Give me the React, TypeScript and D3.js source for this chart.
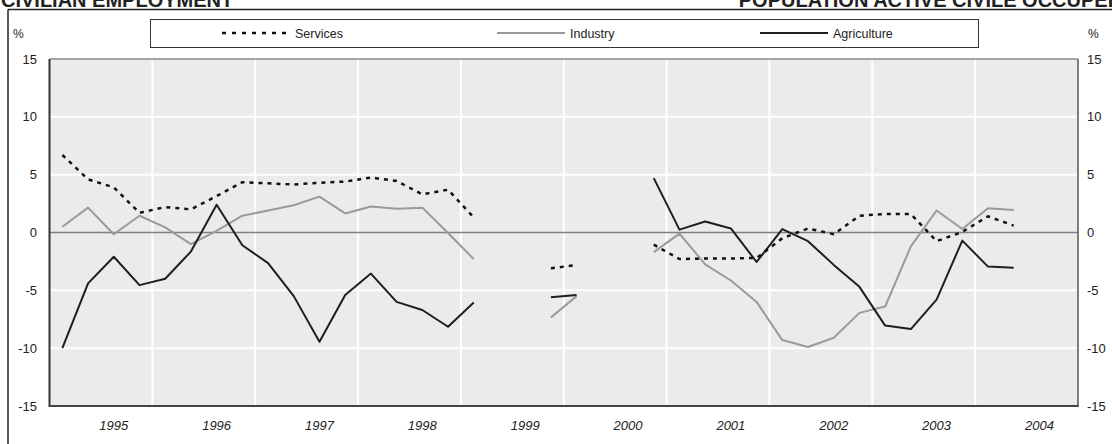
import React from "react";
import * as d3 from "d3";

// Quarterly periods: 1995Q1 .. 2004Q2
const years = [1995, 1996, 1997, 1998, 1999, 2000, 2001, 2002, 2003, 2004];
const quarters: string[] = [];
for (const y of years) for (let q = 1; q <= 4; q++) if (!(y === 2004 && q > 2)) quarters.push(`${y}Q${q}`);

const services: (number | null)[] = [
  6.7, 4.6, 3.9, 1.7, 2.2, 2.0, 3.15, 4.35, 4.25, 4.15, 4.3, 4.4, 4.75, 4.45, 3.3, 3.7, 1.3,
  null, null, -3.1,
  -2.8, null, null, -1.05,
  -2.3, -2.25, -2.25, -2.2,
  -0.5, 0.35, -0.15, 1.45,
  1.6, 1.6, -0.75, 0.05,
  1.4, 0.6,
];
const industry: (number | null)[] = [
  0.5, 2.15, -0.15, 1.45, 0.45, -1.0, 0.15, 1.45, 1.9, 2.35, 3.1, 1.65, 2.25, 2.05, 2.15, -0.05, -2.3,
  null, null, -7.35,
  -5.5, null, null, -1.7,
  -0.1, -2.75, -4.15, -6.0,
  -9.3, -9.9, -9.1, -6.95,
  -6.4, -1.2, 1.9, 0.3,
  2.1, 1.95,
];
const agriculture: (number | null)[] = [
  -10.0, -4.4, -2.1, -4.55, -4.0, -1.65, 2.4, -1.1, -2.65, -5.5, -9.45, -5.4, -3.55, -6.0, -6.7, -8.15, -6.05,
  null, null, -5.6,
  -5.4, null, null, 4.7,
  0.25, 0.95, 0.35, -2.55,
  0.3, -0.75, -2.8, -4.7,
  -8.05, -8.35, -5.8, -0.7,
  -2.95, -3.05,
];
const yTicks = [-15, -10, -5, 0, 5, 10, 15];
const legendLabels = ["Services", "Industry", "Agriculture"];
const titleLeft = "CIVILIAN EMPLOYMENT";
const titleRight = "POPULATION ACTIVE CIVILE OCCUPÉE";

const W = 1112, H = 444;
const L = 49.5, R = 1078, T = 59, B = 406;
const FONT = "'Liberation Sans', Arial, Helvetica, sans-serif";

export default function App() {
  const x = d3.scaleLinear().domain([1995, 2005]).range([L, R]);
  const y = d3.scaleLinear().domain([-15, 15]).range([B, T]);
  const qx = (i: number) => {
    const [yy, qq] = quarters[i].split("Q").map(Number);
    return x(yy + (qq - 0.5) / 4);
  };
  const line = d3
    .line<number | null>()
    .defined((d) => d !== null)
    .x((_, i) => qx(i))
    .y((d) => y(d as number));

  const legendY = 33;
  const legendItems = [
    { x0: 222, label: legendLabels[0], stroke: "#111", width: 2.5, dash: "4,6" },
    { x0: 497, label: legendLabels[1], stroke: "#9a9a9a", width: 2, dash: undefined },
    { x0: 760, label: legendLabels[2], stroke: "#1e1e1e", width: 2, dash: undefined },
  ];

  return (
    <svg width={W} height={H} style={{ position: "absolute", left: 0, top: 0, background: "#fff" }} fontFamily={FONT}>
      {/* titles, cropped at the top edge as in the reference */}
      <text x={1} y={6.5} fontSize={20} fontWeight="bold" fill="#222">{titleLeft}</text>
      <text x={1121} y={6.5} fontSize={20} fontWeight="bold" fill="#222" textAnchor="end">{titleRight}</text>
      {/* outer frame */}
      <line x1={8} x2={W} y1={9.5} y2={9.5} stroke="#222" strokeWidth={1.5} />
      <line x1={8} x2={8} y1={9.5} y2={H} stroke="#222" strokeWidth={1.5} />

      {/* legend */}
      <rect x={150.5} y={19.5} width={828} height={28} fill="#fff" stroke="#333" strokeWidth={1} />
      {legendItems.map((it, i) => (
        <g key={i}>
          <line x1={it.x0} x2={it.x0 + 68} y1={legendY} y2={legendY} stroke={it.stroke} strokeWidth={it.width} strokeDasharray={it.dash} />
          <text x={it.x0 + 73} y={legendY + 4.5} fontSize={12.5} fill="#222">{it.label}</text>
        </g>
      ))}

      {/* plot background */}
      <rect x={L} y={T} width={R - L} height={B - T} fill="#eaebea" />
      {yTicks.filter((t) => t !== 0 && Math.abs(t) !== 15).map((t) => (
        <line key={t} x1={L} x2={R} y1={y(t)} y2={y(t)} stroke="#fff" strokeWidth={2} />
      ))}
      {years.slice(1).map((yr) => (
        <line key={yr} x1={x(yr)} x2={x(yr)} y1={T} y2={B} stroke="#fff" strokeWidth={2} />
      ))}
      <line x1={L} x2={R} y1={y(0)} y2={y(0)} stroke="#808080" strokeWidth={1.5} />
      <line x1={L} x2={R} y1={T} y2={T} stroke="#888" strokeWidth={1.5} />
      <line x1={R} x2={R} y1={T} y2={B} stroke="#555" strokeWidth={1.5} />
      <line x1={L} x2={L} y1={T} y2={B + 1} stroke="#333" strokeWidth={2} />
      <line x1={L} x2={R + 0.75} y1={B} y2={B} stroke="#444" strokeWidth={2} />

      {/* series */}
      <path d={line(industry) || ""} fill="none" stroke="#9a9a9a" strokeWidth={2} strokeLinejoin="round" />
      <path d={line(agriculture) || ""} fill="none" stroke="#1e1e1e" strokeWidth={2} strokeLinejoin="round" />
      <path d={line(services) || ""} fill="none" stroke="#111" strokeWidth={2.5} strokeDasharray="4,5" />

      {/* y tick labels */}
      {yTicks.map((t) => (
        <g key={t}>
          <text x={37} y={y(t) + 4.5} fontSize={13} textAnchor="end" fill="#222">{t}</text>
          <text x={1087} y={y(t) + 4.5} fontSize={13} textAnchor="start" fill="#222">{t}</text>
        </g>
      ))}
      <text x={13} y={38} fontSize={12} fill="#222">%</text>
      <text x={1088} y={38} fontSize={12} fill="#222">%</text>

      {/* x labels */}
      {years.map((yr) => (
        <text key={yr} x={x(yr + 0.625)} y={430} fontSize={13} fontStyle="italic" textAnchor="middle" fill="#222">{yr}</text>
      ))}
    </svg>
  );
}
